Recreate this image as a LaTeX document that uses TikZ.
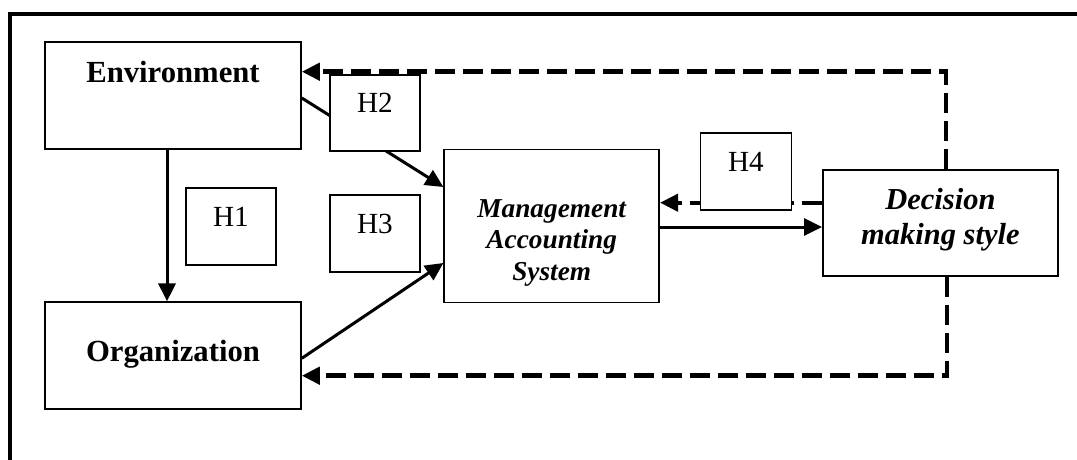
\documentclass[tikz,border=0pt]{standalone}
\usepackage{fontspec}
\setmainfont{Liberation Serif}
\usetikzlibrary{arrows.meta}
\tikzset{
  box/.style={draw,line width=1.6pt,fill=white,inner sep=0pt,font=\fontsize{30.7}{34}\selectfont\bfseries},
  hbox/.style={draw,line width=1.6pt,fill=white,inner sep=0pt,minimum width=90pt,minimum height=77pt,
    text height=12pt,text depth=12pt,font=\fontsize{29.2}{34}\selectfont},
  link/.style={line width=3pt,-{Triangle[length=18pt,width=17pt]}},
  back/.style={line width=4.5pt,dash pattern=on 20pt off 8pt,-{Triangle[length=18pt,width=17pt]}}
}
\begin{document}
\begin{tikzpicture}[x=1pt,y=-1pt]
  \useasboundingbox (0,0) rectangle (1077,460);
  \draw[line width=4pt] (10.3,462) -- (10.3,13.8) -- (1079,13.8);
  \node[box,minimum width=256pt,minimum height=107pt,text height=20pt,text depth=47pt] (env) at (173,95.5) {Environment};
  \node[box,minimum width=256pt,minimum height=107pt,text height=20pt,text depth=8pt] (org) at (173,355.7) {Organization};
  \node[box,minimum width=215pt,minimum height=153pt,align=center,text height=120pt,text depth=11.6pt,
    font=\fontsize{27.3}{31.5}\selectfont\bfseries\itshape] (mas) at (551.7,225.8) {Management\\Accounting\\System};
  \node[box,minimum width=235pt,minimum height=106pt,align=center,text height=56pt,text depth=14pt,
    font=\fontsize{30.5}{35}\selectfont\bfseries\itshape] (dec) at (940.4,223) {Decision\\making style};
  \draw[link] ([xshift=-6pt]env.south) -- ([xshift=-6pt]org.north);
  \draw[link] ([yshift=-2.5pt]env.east) -- ([yshift=38.8pt]mas.west);
  \draw[link] ([yshift=-2.6pt]org.east) -- ([yshift=-37.2pt]mas.west);
  \draw[link] ([yshift=-1.2pt]mas.east) -- ([yshift=-1.2pt]mas.east -| dec.west);
  \draw[back,line width=4pt] ([yshift=20.3pt]dec.west) -- ([yshift=20.3pt]dec.west -| mas.east);
  \draw[back] ([xshift=5.5pt]dec.north) |- ([yshift=23.8pt]env.east);
  \draw[back] ([xshift=6.5pt]dec.south) |- ([yshift=-20pt]org.east);
  \node[hbox] (h1) at (231,226.5) {H1};
  \node[hbox,minimum height=76pt] (h2) at (375,113) {H2};
  \node[hbox] (h3) at (375,233.5) {H3};
  \node[hbox,minimum width=91pt] (h4) at (746,171.5) {H4};
\end{tikzpicture}
\end{document}
